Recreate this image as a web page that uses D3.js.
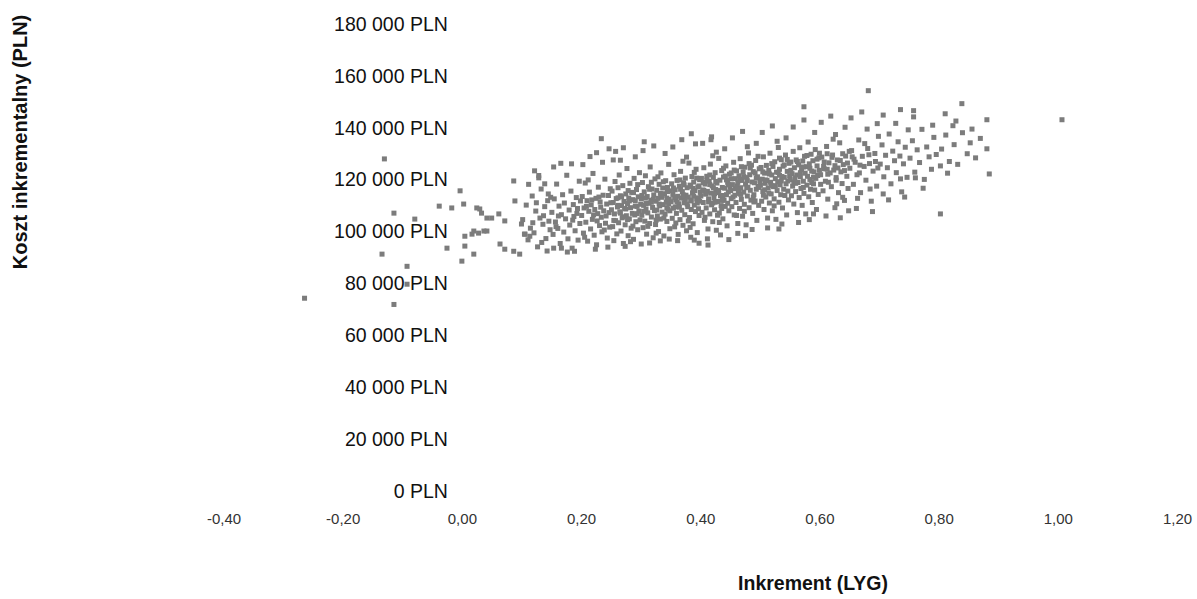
<!DOCTYPE html>
<html>
<head>
<meta charset="utf-8">
<script src="https://cdn.jsdelivr.net/npm/d3@7"></script>
<style>
  html, body { margin: 0; padding: 0; background: #fff; }
  svg { display: block; font-family: "Liberation Sans", Arial, sans-serif; }
</style>
</head>
<body>
<svg id="chart" width="1197" height="599"></svg>
<script>
// Tick values
const xTicks = [-0.4, -0.2, 0, 0.2, 0.4, 0.6, 0.8, 1.0, 1.2];
const yTicks = [0, 20000, 40000, 60000, 80000, 100000, 120000, 140000, 160000, 180000];

// Simulation points: [incremental LYG, incremental cost in thousand PLN]
const ptsNegative = [[-0.264,74.3],[-0.130,128.0],[-0.134,91.3],[-0.114,107.1],[-0.114,71.9],[-0.092,86.6],[-0.092,79.7],[-0.079,104.8],[-0.038,109.8],[-0.025,93.6],[-0.017,109.1],[-0.003,115.7]];
const ptsLow = [[0.000,88.6],[0.003,110.6],[0.005,98.2],[0.005,94.4],[0.017,99.0],[0.020,100.2],[0.020,91.3],[0.025,109.1],[0.028,99.4],[0.030,108.7],[0.033,107.1],[0.037,100.2],[0.042,105.2],[0.042,100.2],[0.050,105.2],[0.062,106.8],[0.064,95.2],[0.072,104.1],[0.072,93.2],[0.087,119.5],[0.087,92.4],[0.089,111.8],[0.097,91.3],[0.100,102.9],
 [0.105,99.0],[0.114,98.2],[0.122,123.4],[0.129,120.7],[0.139,118.4],[0.145,114.5],[0.154,93.6],[0.167,93.6],[0.189,92.4],[0.184,126.1],[0.226,130.4],[0.234,135.8],[0.247,131.9],[0.254,127.6],[0.271,132.3],[0.306,134.6],[0.301,95.2],[0.326,99.4],[0.385,137.7],[0.390,96.7],[0.413,94.8],[0.418,135.4]];
const pts010 = [[0.102,104.6],[0.108,110.2],[0.111,96.8],[0.115,101.3],[0.118,113.7],[0.121,99.5],[0.124,107.9],[0.127,94.1],[0.131,105.2],[0.133,116.4],[0.136,102.8],[0.139,109.6],[0.141,97.3],[0.144,111.9],[0.146,104.0],[0.148,100.7],[0.112,118.2],[0.129,121.6],[0.143,92.5],[0.137,106.1],[0.119,103.4],[0.149,113.2],[0.106,99.0],[0.125,111.1],[0.134,95.8]];
const pts015 = [[0.151,107.4],[0.153,98.9],[0.155,112.6],[0.157,103.7],[0.159,118.3],[0.161,101.2],[0.163,109.8],[0.165,95.4],[0.167,106.5],[0.169,114.2],[0.171,99.8],[0.172,111.0],[0.174,104.9],[0.176,121.7],[0.178,97.2],[0.180,108.3],[0.181,102.5],[0.183,115.6],[0.185,93.6],[0.187,110.4],[0.188,105.8],[0.190,100.3],[0.192,113.1],[0.193,107.0],[0.195,96.7],[0.197,119.4],[0.198,103.1],[0.199,111.8],[0.154,124.9],[0.166,126.3],[0.177,92.1],[0.186,104.4],[0.162,106.0],[0.194,108.9],[0.158,101.9]];
const pts020 = [[0.201,106.2],[0.202,113.5],[0.204,99.4],[0.205,109.1],[0.207,118.7],[0.208,103.6],[0.210,111.9],[0.211,96.3],[0.213,107.8],[0.214,115.2],[0.216,101.0],[0.217,110.3],[0.219,104.7],[0.220,122.4],[0.222,98.6],[0.223,108.5],[0.225,112.8],[0.226,94.9],[0.228,106.9],[0.229,117.1],[0.231,102.3],[0.232,111.4],[0.234,105.5],[0.235,99.9],[0.237,114.0],[0.238,108.0],[0.240,120.2],[0.241,103.2],[0.243,110.6],[0.244,97.5],[0.246,113.9],[0.247,107.3],[0.248,101.7],[0.249,116.5],[0.203,125.8],[0.215,128.9],[0.224,93.2],[0.236,126.7],[0.245,94.0],[0.209,109.7],[0.218,112.2],[0.227,104.1],[0.233,109.4],[0.239,100.6],[0.212,119.9],[0.221,106.4],[0.230,113.3],[0.242,106.0],[0.206,97.8],[0.250,111.1]];
const pts025 = [[0.251,108.4],[0.252,115.6],[0.253,101.9],[0.254,111.2],[0.255,96.5],[0.256,106.8],[0.257,119.3],[0.258,104.2],[0.259,112.7],[0.260,99.1],[0.261,109.5],[0.262,116.9],[0.263,103.4],[0.264,121.8],[0.265,107.6],[0.266,113.8],[0.267,100.2],[0.268,110.0],[0.269,105.3],[0.270,117.7],[0.271,95.4],[0.272,111.6],[0.273,108.9],[0.274,102.6],[0.275,114.5],[0.276,106.1],[0.277,124.3],[0.278,110.8],[0.279,98.4],[0.280,112.9],[0.281,104.9],[0.282,118.6],[0.283,109.2],[0.284,101.3],[0.285,115.1],[0.286,107.0],[0.287,112.3],[0.288,97.0],[0.289,120.5],[0.290,106.4],[0.291,111.9],[0.292,103.8],[0.293,116.2],[0.294,109.7],[0.295,100.7],[0.296,113.4],[0.297,107.9],[0.298,122.7],[0.299,104.5],[0.300,110.5],[0.258,130.9],[0.266,127.5],[0.274,94.3],[0.283,96.1],[0.291,128.8],[0.262,113.0],[0.279,115.8],[0.287,102.1],[0.295,118.1],[0.270,105.7]];
const pts030 = [[0.301,112.6],[0.302,106.3],[0.303,118.9],[0.304,101.5],[0.305,110.1],[0.306,115.3],[0.307,104.0],[0.308,121.5],[0.309,108.7],[0.310,99.0],[0.311,113.5],[0.312,107.2],[0.313,117.3],[0.314,110.9],[0.315,103.1],[0.316,124.9],[0.317,112.0],[0.318,105.6],[0.319,116.4],[0.320,109.3],[0.321,97.6],[0.322,114.1],[0.323,108.1],[0.324,120.3],[0.325,102.7],[0.326,111.7],[0.327,115.9],[0.328,106.0],[0.329,112.8],[0.330,100.0],[0.331,118.2],[0.332,109.9],[0.333,104.8],[0.334,122.6],[0.335,113.2],[0.336,107.5],[0.337,116.8],[0.338,110.4],[0.339,98.3],[0.340,114.6],[0.341,106.7],[0.342,119.6],[0.343,111.3],[0.344,103.9],[0.345,117.0],[0.346,108.6],[0.347,125.9],[0.348,112.4],[0.349,101.1],[0.350,115.7],[0.304,131.2],[0.315,95.6],[0.322,133.0],[0.333,96.4],[0.341,130.1],[0.348,97.1],[0.308,112.9],[0.318,119.0],[0.326,104.4],[0.336,113.9],[0.344,109.1],[0.312,102.0],[0.329,121.1],[0.339,105.2],[0.347,110.6]];
const pts035 = [[0.351,111.5],[0.352,118.4],[0.353,105.1],[0.354,114.3],[0.355,109.0],[0.356,121.9],[0.357,101.8],[0.358,116.1],[0.359,112.2],[0.360,107.0],[0.361,119.7],[0.362,113.6],[0.363,98.9],[0.364,110.7],[0.365,117.5],[0.366,104.6],[0.367,123.2],[0.368,112.9],[0.369,108.2],[0.370,115.4],[0.371,102.4],[0.372,118.8],[0.373,111.1],[0.374,106.5],[0.375,120.6],[0.376,114.0],[0.377,100.3],[0.378,116.9],[0.379,109.6],[0.380,113.3],[0.381,126.4],[0.382,105.4],[0.383,117.9],[0.384,111.8],[0.385,108.5],[0.386,121.2],[0.387,114.9],[0.388,103.0],[0.389,119.1],[0.390,110.2],[0.391,115.8],[0.392,107.7],[0.393,124.0],[0.394,112.5],[0.395,99.6],[0.396,117.2],[0.397,113.0],[0.398,106.2],[0.399,120.0],[0.400,115.1],[0.354,132.6],[0.362,96.5],[0.369,135.4],[0.377,128.7],[0.384,97.8],[0.392,133.8],[0.398,95.5],[0.357,113.1],[0.365,109.4],[0.373,118.0],[0.380,104.1],[0.388,116.6],[0.395,111.0],[0.359,103.3],[0.367,116.3],[0.375,112.4],[0.383,101.6],[0.390,122.8],[0.397,108.8],[0.371,127.1]];
const pts040 = [[0.401,113.7],[0.402,120.5],[0.403,107.4],[0.404,116.0],[0.405,111.2],[0.406,124.6],[0.407,104.3],[0.408,118.3],[0.409,114.4],[0.410,109.1],[0.411,121.3],[0.412,115.5],[0.413,101.0],[0.414,112.6],[0.415,119.4],[0.416,106.8],[0.417,126.0],[0.418,114.8],[0.419,110.3],[0.420,117.6],[0.421,103.8],[0.422,120.9],[0.423,113.1],[0.424,108.4],[0.425,122.7],[0.426,116.2],[0.427,100.5],[0.428,118.7],[0.429,111.6],[0.430,115.0],[0.431,128.2],[0.432,107.1],[0.433,119.8],[0.434,113.8],[0.435,110.0],[0.436,123.5],[0.437,117.0],[0.438,104.9],[0.439,121.0],[0.440,112.1],[0.441,116.7],[0.442,109.7],[0.443,125.3],[0.444,114.2],[0.445,102.2],[0.446,119.0],[0.447,115.3],[0.448,108.0],[0.449,122.1],[0.450,117.3],[0.404,134.0],[0.412,97.2],[0.419,136.5],[0.427,130.6],[0.434,98.7],[0.441,131.9],[0.448,96.9],[0.406,115.9],[0.414,111.4],[0.422,116.9],[0.429,106.3],[0.437,112.0],[0.444,119.9],[0.408,105.5],[0.416,118.1],[0.424,114.6],[0.432,103.5],[0.439,124.4],[0.446,110.9],[0.421,129.2]];
const pts045 = [[0.451,115.8],[0.452,122.6],[0.453,109.6],[0.454,118.1],[0.455,113.3],[0.456,126.7],[0.457,106.4],[0.458,120.4],[0.459,116.5],[0.460,111.2],[0.461,123.4],[0.462,117.6],[0.463,103.1],[0.464,114.7],[0.465,121.5],[0.466,108.9],[0.467,128.1],[0.468,116.9],[0.469,112.4],[0.470,119.7],[0.471,105.9],[0.472,123.0],[0.473,115.2],[0.474,110.5],[0.475,124.8],[0.476,118.3],[0.477,102.6],[0.478,120.8],[0.479,113.7],[0.480,117.1],[0.481,130.3],[0.482,109.2],[0.483,121.9],[0.484,115.9],[0.485,112.1],[0.486,125.6],[0.487,119.1],[0.488,107.0],[0.489,123.1],[0.490,114.2],[0.491,118.8],[0.492,111.8],[0.493,127.4],[0.494,116.3],[0.495,104.3],[0.496,121.1],[0.497,117.4],[0.498,110.1],[0.499,124.2],[0.500,119.4],[0.454,136.1],[0.463,99.3],[0.471,138.6],[0.479,132.7],[0.487,100.8],[0.494,134.0],[0.458,114.0],[0.466,120.1],[0.474,107.8],[0.482,126.2],[0.490,111.4],[0.497,129.0],[0.461,106.2],[0.469,125.0],[0.476,98.4]];
const pts050 = [[0.501,117.9],[0.502,124.7],[0.503,111.7],[0.504,120.2],[0.505,115.4],[0.506,128.8],[0.507,108.5],[0.508,122.5],[0.509,118.6],[0.510,113.3],[0.511,125.5],[0.512,119.7],[0.513,105.2],[0.514,116.8],[0.515,123.6],[0.516,111.0],[0.517,130.2],[0.518,119.0],[0.519,114.5],[0.520,121.8],[0.521,108.0],[0.522,125.1],[0.523,117.3],[0.524,112.6],[0.525,126.9],[0.526,120.4],[0.527,104.7],[0.528,122.9],[0.529,115.8],[0.530,119.2],[0.531,132.4],[0.532,111.3],[0.533,124.0],[0.534,118.0],[0.535,114.2],[0.536,127.7],[0.537,121.2],[0.538,109.1],[0.539,125.2],[0.540,116.3],[0.541,120.9],[0.542,113.9],[0.543,129.5],[0.544,118.4],[0.545,106.4],[0.546,123.2],[0.547,119.5],[0.548,112.2],[0.549,126.3],[0.550,121.5],[0.504,138.2],[0.513,101.4],[0.521,140.7],[0.529,134.8],[0.537,102.9],[0.544,136.1],[0.508,116.1],[0.516,122.2],[0.524,109.9],[0.533,128.3],[0.532,101.0]];
const pts055 = [[0.551,120.0],[0.552,126.8],[0.553,113.8],[0.554,122.3],[0.555,117.5],[0.556,130.9],[0.557,110.6],[0.558,124.6],[0.559,120.7],[0.560,115.4],[0.561,127.6],[0.562,121.8],[0.563,107.3],[0.564,118.9],[0.565,125.7],[0.566,113.1],[0.567,132.3],[0.568,121.1],[0.569,116.6],[0.570,123.9],[0.571,110.1],[0.572,127.2],[0.573,119.4],[0.574,114.7],[0.575,129.0],[0.576,122.5],[0.577,106.8],[0.578,125.0],[0.579,117.9],[0.580,121.3],[0.581,134.5],[0.582,113.4],[0.583,126.1],[0.584,120.1],[0.585,116.3],[0.586,129.8],[0.587,123.3],[0.588,111.2],[0.589,127.3],[0.590,118.4],[0.591,123.0],[0.592,116.0],[0.593,131.6],[0.594,120.5],[0.595,108.5],[0.596,125.3],[0.597,121.6],[0.598,114.3],[0.599,128.4],[0.600,123.6],[0.556,140.3],[0.565,103.5],[0.574,143.0],[0.583,104.6],[0.592,138.2],[0.574,148.1],[0.590,106.8]];
const pts060 = [[0.602,121.9],[0.604,128.7],[0.606,115.7],[0.608,124.2],[0.610,119.4],[0.612,132.8],[0.614,112.5],[0.616,126.5],[0.618,122.6],[0.620,117.3],[0.622,129.5],[0.624,123.7],[0.626,109.2],[0.628,120.8],[0.630,127.6],[0.632,115.0],[0.634,134.2],[0.636,123.0],[0.638,118.5],[0.640,125.8],[0.642,112.0],[0.644,129.1],[0.646,121.3],[0.648,116.6],[0.650,130.9],[0.603,142.1],[0.611,106.0],[0.619,144.5],[0.627,137.4],[0.635,105.3],[0.643,140.2],[0.649,108.0],[0.607,125.1],[0.615,119.0],[0.623,135.6],[0.631,124.5],[0.639,113.2],[0.647,126.4],[0.613,130.0],[0.629,110.7]];
const pts065 = [[0.651,124.4],[0.654,131.2],[0.657,118.2],[0.660,126.7],[0.663,121.9],[0.666,135.3],[0.669,115.0],[0.672,129.0],[0.675,125.1],[0.678,119.8],[0.681,132.0],[0.684,126.2],[0.687,111.7],[0.690,123.3],[0.693,130.1],[0.696,117.5],[0.699,136.7],[0.653,143.8],[0.662,108.9],[0.671,146.1],[0.680,139.5],[0.689,107.7],[0.697,141.6],[0.682,154.3],[0.658,127.9],[0.667,122.6],[0.676,133.9],[0.685,116.4],[0.694,127.0],[0.664,112.8]];
const pts070 = [[0.702,126.0],[0.705,133.4],[0.708,121.1],[0.711,129.4],[0.714,124.6],[0.717,137.6],[0.720,118.4],[0.723,131.0],[0.726,127.3],[0.729,122.7],[0.732,134.6],[0.735,129.1],[0.738,115.3],[0.741,126.1],[0.744,132.5],[0.747,120.9],[0.707,144.9],[0.716,112.2],[0.728,141.7],[0.736,147.0],[0.743,113.3],[0.749,139.2],[0.707,114.5],[0.736,120.3]];
const pts075 = [[0.752,128.3],[0.756,135.0],[0.760,122.9],[0.764,131.5],[0.768,126.6],[0.772,139.4],[0.776,120.1],[0.780,132.6],[0.784,128.8],[0.788,124.0],[0.792,136.3],[0.796,129.7],[0.758,144.2],[0.774,116.7],[0.790,141.0],[0.758,146.6],[0.761,120.7]];
const ptsHigh = [[0.803,125.3],[0.803,106.8],[0.811,145.4],[0.824,140.8],[0.839,149.3],[0.848,130.0],[0.853,134.2],[0.805,131.8],[0.812,137.2],[0.818,127.0],[0.826,133.5],[0.832,125.9],[0.840,138.1],[0.815,122.5],[0.829,142.6],[0.856,139.5],[0.862,128.4],[0.870,135.9],[0.881,143.1],[0.881,131.9],[0.885,122.2],[1.007,143.1]];
const ptsCore = [[0.262,110.1],[0.268,113.4],[0.275,108.7],[0.281,111.8],[0.288,115.0],[0.294,106.9],[0.302,113.9],[0.309,110.8],[0.315,116.3],[0.321,112.4],[0.327,108.3],[0.333,114.7],[0.338,119.2],[0.344,112.9],[0.349,108.0],[0.355,116.8],[0.361,111.4],[0.366,119.9],[0.372,114.1],[0.378,110.6],[0.384,117.4],[0.389,113.7],[0.394,120.6],[0.399,111.7],[0.405,118.9],[0.410,114.9],[0.416,121.8],[0.421,111.0],[0.426,119.3],[0.431,115.8],[0.436,108.9],[0.442,121.4],[0.447,118.0],[0.452,112.7],[0.457,123.7],[0.463,119.0],[0.468,114.3],[0.473,121.2],[0.478,116.9],[0.484,124.5],[0.489,113.2],[0.494,120.7],[0.499,117.0],[0.505,123.0],[0.510,119.9],[0.515,114.8],[0.520,126.2],[0.526,117.7],[0.531,122.8],[0.536,119.5],[0.541,125.7],[0.547,115.6],[0.552,123.6],[0.557,119.1],[0.563,127.0],[0.568,122.7],[0.573,117.0],[0.579,129.3],[0.584,124.4],[0.590,120.9],[0.596,127.9],[0.602,118.2],[0.608,126.8],[0.614,122.1],[0.621,128.6],[0.628,119.8],[0.635,127.4],[0.642,123.5],[0.255,104.3],[0.266,107.1],[0.278,104.6],[0.291,109.8],[0.305,107.8],[0.318,111.3],[0.331,110.6],[0.345,115.4],[0.358,109.5],[0.371,113.6],[0.385,112.1],[0.398,117.6],[0.411,119.8],[0.425,111.3],[0.438,113.9],[0.452,120.3],[0.465,116.1],[0.479,119.6],[0.492,122.6],[0.506,114.0],[0.519,117.8],[0.533,121.7],[0.546,127.8],[0.560,118.6],[0.573,124.9],[0.587,118.9],[0.600,130.2],[0.613,124.0],[0.626,125.4],[0.639,130.0],[0.655,128.8],[0.668,125.6],[0.683,129.6],[0.698,124.5]];

const points = [].concat(ptsNegative, ptsLow, pts010, pts015, pts020, pts025, pts030, pts035, pts040, pts045, pts050, pts055, pts060, pts065, pts070, pts075, ptsHigh, ptsCore);

const svg = d3.select("#chart");
const x = d3.scaleLinear().domain([-0.4, 1.2]).range([223.5, 1177]);
const y = d3.scaleLinear().domain([0, 180000]).range([491, 24]);

// points
const s = 5;
svg.append("g").selectAll("rect").data(points).join("rect")
  .attr("x", d => x(d[0]) - s / 2)
  .attr("y", d => y(d[1] * 1000) - s / 2)
  .attr("width", s).attr("height", s)
  .attr("fill", "#7c7c7c");

// y axis
const fmtY = d => d3.format(",")(d).replace(/,/g, " ") + " PLN";
const yAxis = d3.axisLeft(y).tickValues(yTicks).tickFormat(fmtY).tickSize(0).tickPadding(14);
const gy = svg.append("g").attr("transform", `translate(${x(0)},0)`).call(yAxis);
gy.select(".domain").remove();
gy.selectAll("text").attr("font-size", 19.5).attr("fill", "#111")
  .attr("font-family", "'Liberation Sans', Arial, sans-serif");

// x axis
const fmtX = d => d3.format(".2f")(d).replace(".", ",").replace("\u2212", "-");
const xAxis = d3.axisBottom(x).tickValues(xTicks).tickFormat(fmtX).tickSize(0).tickPadding(22);
const gx = svg.append("g").attr("transform", `translate(0,${y(0)})`).call(xAxis);
gx.select(".domain").remove();
gx.selectAll("text").attr("font-size", 15).attr("fill", "#333")
  .attr("font-family", "'Liberation Sans', Arial, sans-serif");

// axis titles
svg.append("text")
  .attr("x", 813).attr("y", 590)
  .attr("text-anchor", "middle")
  .attr("font-size", 19.5).attr("font-weight", "bold").attr("fill", "#111")
  .text("Inkrement (LYG)");

svg.append("text")
  .attr("transform", "translate(27,142) rotate(-90)")
  .attr("text-anchor", "middle")
  .attr("font-size", 20).attr("font-weight", "bold").attr("fill", "#111")
  .text("Koszt inkrementalny (PLN)");
</script>
</body>
</html>
